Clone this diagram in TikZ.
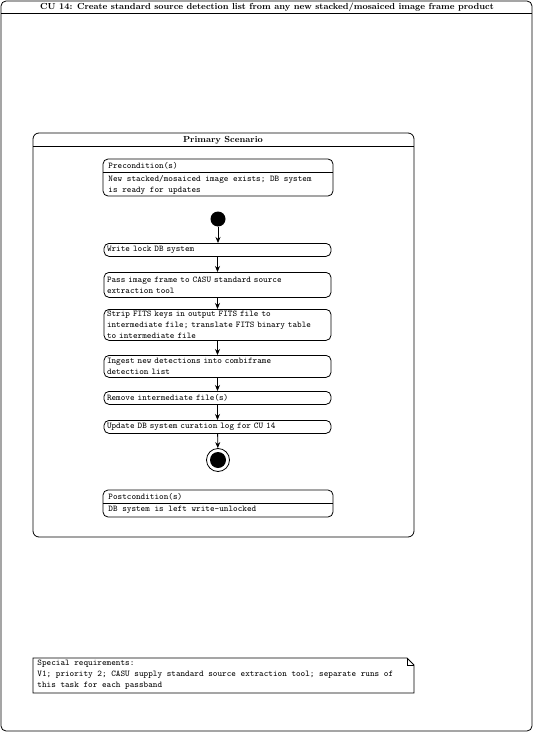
\documentclass[tikz,border=0pt]{standalone}
\usetikzlibrary{arrows.meta}
\begin{document}
\begin{tikzpicture}[x=1pt,y=-1pt,line width=0.8pt,
  ttxt/.style={font=\fontsize{8.8}{11}\selectfont\ttfamily},
  act/.style={draw,rounded corners=5pt,minimum width=227pt,text width=221pt,
    inner xsep=3pt,inner ysep=1pt,align=left,anchor=north,
    font=\fontsize{8.8}{11}\selectfont\ttfamily},
  flow/.style={-{Stealth[length=6pt,width=5pt]}},
  ttl/.style={font=\fontsize{8.8}{10}\selectfont\bfseries}]
\useasboundingbox (0,0) rectangle (534,733);
% outer frame
\draw[rounded corners=5pt] (1,1) rectangle (532,731);
\draw (1,13) -- (532,13);
\node[ttl] (title) at (267,7) {CU 14: Create standard source detection list from any new stacked/mosaiced image frame product};
% primary scenario
\draw[rounded corners=6pt] (33,133) rectangle (414,537);
\draw (33,146) -- (414,146);
\node[ttl] (ps) at (223,140) {Primary Scenario};
% precondition
\draw[rounded corners=5pt] (103,159) rectangle (333,196);
\draw (103,172) -- (333,172);
\node[ttl,ttxt,anchor=west,inner sep=0pt] (prehd) at (108,166) {Precondition(s)};
\node[ttxt,anchor=north west,inner sep=0pt,align=left] (prebody) at (108,174.5) {New stacked/mosaiced image exists; DB system\\is ready for updates};
% start
\node[circle,fill,minimum size=15pt,inner sep=0pt] (start) at (218,219) {};
% actions
\node[act,minimum height=13pt] (a1) at (217.5,243) {Write lock DB system};
\node[act,minimum height=25pt] (a2) at (217.5,272) {Pass image frame to CASU standard source\\extraction tool};
\node[act,minimum height=31pt] (a3) at (217.5,309) {Strip FITS keys in output FITS file to\\intermediate file; translate FITS binary table\\to intermediate file};
\node[act,minimum height=22pt] (a4) at (217.5,355) {Ingest new detections into combiframe\\detection list};
\node[act,minimum height=13pt] (a5) at (217.5,391) {Remove intermediate file(s)};
\node[act,minimum height=13pt] (a6) at (217.5,420) {Update DB system curation log for CU 14};
% end
\node[circle,draw,minimum size=23pt,inner sep=0pt] (end) at (218,460) {};
\fill (end.center) circle (8pt);
% connectors
\draw[flow] (start) -- (start |- a1.north);
\draw[flow] (a1) -- (a1 |- a2.north);
\draw[flow] (a2) -- (a2 |- a3.north);
\draw[flow] (a3) -- (a3 |- a4.north);
\draw[flow] (a4) -- (a4 |- a5.north);
\draw[flow] (a5) -- (a5 |- a6.north);
\draw[flow] (a6) -- (end);
% postcondition
\draw[rounded corners=5pt] (103,490) rectangle (333,517);
\draw (103,503) -- (333,503);
\node[ttxt,anchor=west,inner sep=0pt] (posthd) at (108,497) {Postcondition(s)};
\node[ttxt,anchor=west,inner sep=0pt] (postbody) at (108,510) {DB system is left write-unlocked};
% note
\draw (33,658) -- (407,658) -- (414,665) -- (414,693) -- (33,693) -- cycle;
\draw (407,658) -- (407,665) -- (414,665);
\node[ttxt,anchor=north west,inner sep=0pt,align=left] (note) at (37,660) {Special requirements:\\V1; priority 2; CASU supply standard source extraction tool; separate runs of\\this task for each passband};
\end{tikzpicture}
\end{document}
